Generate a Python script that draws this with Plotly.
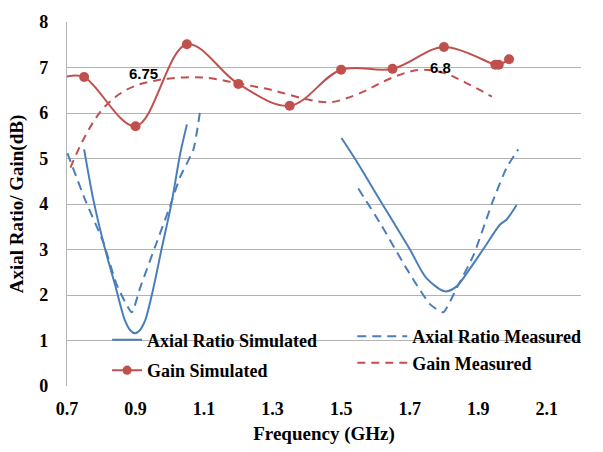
import plotly.graph_objects as go

# Axial ratio simulated (two bands)
ar_sim_x1 = [0.75, 0.777, 0.811, 0.84, 0.869, 0.885, 0.898, 0.912, 0.928, 0.952, 0.976, 1.005, 1.03, 1.05]
ar_sim_y1 = [5.2, 4.09, 3.01, 2.23, 1.44, 1.22, 1.16, 1.22, 1.44, 2.15, 3.01, 4.02, 5.09, 5.75]
ar_sim_x2 = [1.501, 1.545, 1.613, 1.70, 1.749, 1.803, 1.837, 1.876, 1.915, 1.964, 1.983, 2.012]
ar_sim_y2 = [5.45, 4.94, 4.09, 3.01, 2.37, 2.08, 2.19, 2.58, 3.01, 3.55, 3.66, 3.98]

# Axial ratio measured (two bands)
ar_meas_x1 = [0.701, 0.753, 0.806, 0.845, 0.889, 0.913, 0.962, 1.0, 1.03, 1.069, 1.088]
ar_meas_y1 = [5.12, 4.09, 3.16, 2.23, 1.62, 2.15, 3.16, 3.94, 4.59, 5.2, 6.02]
ar_meas_x2 = [1.55, 1.613, 1.691, 1.759, 1.798, 1.837, 1.886, 1.944, 1.983, 2.017]
ar_meas_y2 = [4.34, 3.59, 2.58, 1.80, 1.62, 2.15, 2.87, 4.09, 4.80, 5.2]

# Gain simulated
gain_sim_x = [0.7, 0.75, 0.9, 1.05, 1.2, 1.35, 1.5, 1.65, 1.8, 1.95, 1.96, 1.99]
gain_sim_y = [6.80, 6.79, 5.71, 7.51, 6.64, 6.16, 6.95, 6.97, 7.45, 7.06, 7.06, 7.18]

# Gain measured
gain_meas_x = [0.71, 0.75, 0.8, 0.85, 0.9, 0.95, 1.0, 1.1, 1.2, 1.3, 1.4, 1.47, 1.55, 1.65, 1.73, 1.8, 1.86, 1.94]
gain_meas_y = [4.8, 5.45, 6.05, 6.4, 6.6, 6.7, 6.76, 6.78, 6.65, 6.5, 6.3, 6.24, 6.42, 6.78, 6.95, 6.88, 6.68, 6.36]

# Peak labels
label_x = [0.923, 1.79]
label_y = [6.86, 7.0]
label_text = ["6.75", "6.8"]

x_ticks = [0.7, 0.9, 1.1, 1.3, 1.5, 1.7, 1.9, 2.1]
y_ticks = [0, 1, 2, 3, 4, 5, 6, 7, 8]

BLUE = "#4a7ebb"
RED = "#c0504d"
SERIF = "Liberation Serif"

fig = go.Figure()

fig.add_trace(go.Scatter(
    x=ar_sim_x1 + [None] + ar_sim_x2, y=ar_sim_y1 + [None] + ar_sim_y2,
    mode="lines", line=dict(color=BLUE, width=2, shape="spline", smoothing=0.8),
    name="Axial Ratio Simulated", legend="legend", legendgroup="a", connectgaps=False))

fig.add_trace(go.Scatter(
    x=gain_sim_x, y=gain_sim_y, mode="lines+markers",
    line=dict(color=RED, width=2, shape="spline", smoothing=1.0),
    marker=dict(color=RED, size=[0] + [10] * (len(gain_sim_x) - 1), opacity=1,
                line=dict(width=0)),
    name="Gain Simulated", legend="legend", legendgroup="b"))

fig.add_trace(go.Scatter(
    x=ar_meas_x1 + [None] + ar_meas_x2, y=ar_meas_y1 + [None] + ar_meas_y2,
    mode="lines", line=dict(color=BLUE, width=2, dash="9px,6px", shape="spline", smoothing=0.5),
    name="Axial Ratio Measured", legend="legend2", connectgaps=False))

fig.add_trace(go.Scatter(
    x=gain_meas_x, y=gain_meas_y, mode="lines",
    line=dict(color=RED, width=2, dash="8px,6px", shape="spline", smoothing=1.0),
    name="Gain Measured", legend="legend2"))

for lx, ly, lt in zip(label_x, label_y, label_text):
    fig.add_annotation(x=lx, y=ly, text=lt, showarrow=False,
                       font=dict(family="Liberation Sans", size=15, color="black", weight="bold"))

fig.update_layout(
    width=603, height=452,
    margin=dict(l=67, r=22, t=14, b=65),
    plot_bgcolor="white", paper_bgcolor="white",
    font=dict(family=SERIF, size=18, color="black", weight="bold"),
    legend=dict(x=0.078, y=0.085, xanchor="left", yanchor="middle",
                bgcolor="rgba(0,0,0,0)", tracegroupgap=4, itemwidth=30,
                font=dict(family=SERIF, size=18, weight="bold")),
    legend2=dict(x=0.555, y=0.1, xanchor="left", yanchor="middle",
                 bgcolor="rgba(0,0,0,0)", itemwidth=50,
                 font=dict(family=SERIF, size=18, weight="bold")),
    xaxis=dict(range=[0.7, 2.2], tickvals=x_ticks, ticktext=[f"{v:.1f}" for v in x_ticks],
               showgrid=False, zeroline=False, showline=False,
               ticks="", ticklabelstandoff=10,
               tickfont=dict(family=SERIF, size=18, weight="bold"),
               title=dict(text="Frequency (GHz)", standoff=8,
                          font=dict(family=SERIF, size=19, weight="bold"))),
    yaxis=dict(range=[0, 8], tickvals=y_ticks, showgrid=True, gridcolor="#b3b3b3", gridwidth=1.3,
               zeroline=False, showline=True, linecolor="#b3b3b3", linewidth=1.3,
               ticks="", ticklabelstandoff=14,
               tickfont=dict(family=SERIF, size=18, weight="bold"),
               title=dict(text="Axial Ratio/ Gain(dB)", standoff=10,
                          font=dict(family=SERIF, size=19, weight="bold"))),
)

fig.write_html("out.html")
